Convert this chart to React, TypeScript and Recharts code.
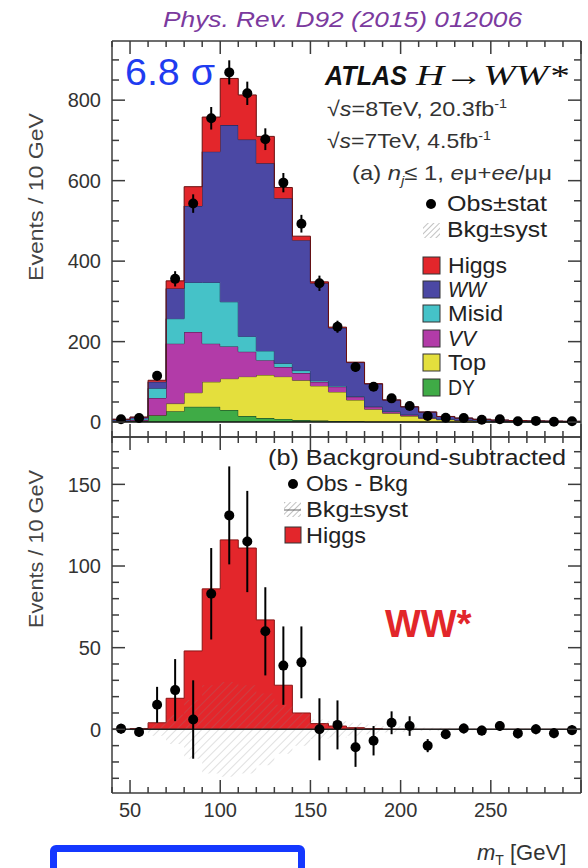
import React from 'react';
import { ComposedChart, Area, Scatter, ErrorBar, XAxis, YAxis, ReferenceLine } from 'recharts';

// m_T bins: lower edges in GeV (10 GeV wide), closed by the last edge
const binLow = [40, 50, 60, 70, 80, 90, 100, 110, 120, 130, 140, 150, 160, 170, 180, 190, 200, 210, 220, 230, 240, 250, 260, 270, 280, 290];
const binCentre = [45, 55, 65, 75, 85, 95, 105, 115, 125, 135, 145, 155, 165, 175, 185, 195, 205, 215, 225, 235, 245, 255, 265, 275, 285, 295];
const upperEdge = 300;

// Expected events per bin for each process (stacked bottom to top: DY, Top, VV, Misid, WW, Higgs)
const dyEvents = [2, 3, 17, 27, 38, 38, 30, 15, 10, 8, 5, 4, 3, 2, 1, 1, 1, 0.5, 0.5, 0.3, 0.2, 0.2, 0.1, 0.1, 0.1, 0.1];
const topEvents = [0, 0, 0, 19, 35, 62, 78, 98, 107, 105, 99, 86, 72, 53, 31, 21, 14, 8.5, 5.5, 3.7, 2.8, 1.8, 1.4, 0.9, 0.9, 0.7];
const vvEvents = [1, 2, 43, 149, 151, 95, 80, 62, 37, 24, 18, 10, 13, 8, 6, 4, 3, 2, 1, 1, 0.5, 0.5, 0.5, 0.5, 0.2, 0.2];
const misidEvents = [1, 3, 24, 62, 123, 152, 111, 38, 23, 9, 6, 3, 2, 1, 1, 1, 1, 1, 1, 0.5, 0.5, 0.5, 0.3, 0.3, 0.3, 0.2];
const wwEvents = [3, 4, 16, 75, 190, 325, 439, 489, 466, 410, 324, 242, 144, 84, 56, 28, 19, 13, 6, 4.5, 3, 2, 1.7, 1.2, 1, 0.8];
const higgsEvents = [0, 0.5, 4, 19, 48, 86, 116, 111, 67, 27, 10, 3.5, 2, 1, 0.4, 0, 0, 0, 0, 0, 0, 0, 0, 0, 0, 0];
const bkgSyst = [0.5, 1, 4, 9, 18, 27, 29, 27, 22, 15, 10, 6, 5, 4, 3, 2, 1.5, 1, 1, 0.5, 0.5, 0.5, 0.3, 0.3, 0.3, 0.3];

// Observed data with statistical errors, and observed minus background
const obsEvents = [7, 10, 115, 356, 543, 755, 869, 817, 703, 595, 493, 345, 237, 137, 88, 59, 40, 15, 11, 10, 6, 7, 2, 3, 1, 2];
const obsStat = [3, 3, 11, 19, 23, 28, 30, 29, 27, 24, 22, 19, 15, 12, 9, 8, 6, 4, 3, 3, 3, 3, 2, 2, 2, 2];
const obsMinusBkg = [0.4, -1.6, 15, 24, 6, 83, 131, 115, 60, 39, 41, 0, 2.7, -11, -7, 4, 2, -10, -3, 0.5, -0.8, 2, -2.5, 0, -2.4, -0.5];
const obsMinusBkgErr = [3, 3, 11, 19, 24, 28, 30, 31, 27, 24, 22, 19, 15, 12, 9, 7, 6, 4, 3, 3, 3, 3, 3, 3, 3, 3];

// Axis ticks
const xTicks = [40, 50, 60, 70, 80, 90, 100, 110, 120, 130, 140, 150, 160, 170, 180, 190, 200, 210, 220, 230, 240, 250, 260, 270, 280, 290, 300];
const xLabels = [50, 100, 150, 200, 250];
const topYTicks = [0, 50, 100, 150, 200, 250, 300, 350, 400, 450, 500, 550, 600, 650, 700, 750, 800, 850, 900];
const bottomYTicks = [-30, -20, -10, 0, 10, 20, 30, 40, 50, 60, 70, 80, 90, 100, 110, 120, 130, 140, 150, 160, 170];

const COLORS = {
  higgs: '#e3262b',
  ww: '#4b48a4',
  misid: '#45c2c8',
  vv: '#b23ba8',
  top: '#e4df3d',
  dy: '#3fab46',
};

const FONT = '"Liberation Sans", Arial, Helvetica, sans-serif';
const AXIS = '#3c3c3c';

// Step rows at bin edges; the closing edge repeats the last bin
const stepRows: any[] = binLow.map((x, i) => ({
  x,
  dy: dyEvents[i],
  top: topEvents[i],
  vv: vvEvents[i],
  misid: misidEvents[i],
  ww: wwEvents[i],
  higgs: higgsEvents[i],
  band: [-bkgSyst[i], bkgSyst[i]],
}));
stepRows.push({ ...stepRows[stepRows.length - 1], x: upperEdge });

const topPoints = binCentre.map((x, i) => ({ x, y: obsEvents[i], e: obsStat[i] }));
const bottomPoints = binCentre.map((x, i) => ({ x, y: obsMinusBkg[i], e: obsMinusBkgErr[i] }));

// Inward-pointing ticks, ATLAS style
function yTick(major: number, side: 'left' | 'right', labelled: boolean) {
  return (props: any) => {
    const { x, y, payload } = props;
    const v = payload.value as number;
    const isMajor = v % major === 0;
    const len = isMajor ? 13 : 7;
    const d = side === 'left' ? 1 : -1;
    return (
      <g>
        <line x1={x} x2={x + d * len} y1={y} y2={y} stroke={AXIS} strokeWidth={1.5} />
        {labelled && isMajor ? (
          <text x={x - 11} y={y} dy="0.36em" textAnchor="end" fontFamily={FONT} fontSize={20} fill="#333">
            {v}
          </text>
        ) : null}
      </g>
    );
  };
}

function xTick(side: 'top' | 'bottom', labelled: boolean) {
  return (props: any) => {
    const { x, y, payload } = props;
    const v = payload.value as number;
    const isMajor = v % 50 === 0;
    const len = isMajor ? 13 : 6;
    const d = side === 'bottom' ? -1 : 1;
    return (
      <g>
        <line x1={x} x2={x} y1={y} y2={y + d * len} stroke={AXIS} strokeWidth={1.5} />
        {labelled && xLabels.indexOf(v) >= 0 ? (
          <text x={x} y={y + 24} textAnchor="middle" fontFamily={FONT} fontSize={20} fill="#333">
            {v}
          </text>
        ) : null}
      </g>
    );
  };
}

const dot = (p: any) => <circle cx={p.cx} cy={p.cy} r={5} fill="#000" />;

const axisLine = { stroke: AXIS, strokeWidth: 1.5 };
const axisCommon = {
  interval: 0 as const,
  tickSize: 0,
  tickMargin: 0,
  tickLine: false,
  axisLine,
  allowDataOverflow: true,
};

function StackPanel() {
  return (
    <ComposedChart width={588} height={440} data={stepRows} margin={{ top: 40, right: 6, bottom: 2, left: 111 }}>
      <XAxis dataKey="x" type="number" domain={[40, 300]} ticks={xTicks} height={1} tick={xTick('bottom', false)} {...axisCommon} />
      <XAxis xAxisId="t" orientation="top" dataKey="x" type="number" domain={[40, 300]} ticks={xTicks} height={1} tick={xTick('top', false)} {...axisCommon} />
      <YAxis type="number" domain={[-37, 947]} ticks={topYTicks} width={1} tick={yTick(200, 'left', true)} {...axisCommon} />
      <YAxis yAxisId="r" orientation="right" type="number" domain={[-37, 947]} ticks={topYTicks} width={1} tick={yTick(200, 'right', false)} {...axisCommon} />
      <Area dataKey="dy" stackId="s" type="stepAfter" fill={COLORS.dy} fillOpacity={1} stroke="#1d3a1d" strokeWidth={1} isAnimationActive={false} />
      <Area dataKey="top" stackId="s" type="stepAfter" fill={COLORS.top} fillOpacity={1} stroke="#4a4a1a" strokeWidth={1} isAnimationActive={false} />
      <Area dataKey="vv" stackId="s" type="stepAfter" fill={COLORS.vv} fillOpacity={1} stroke="#3a1a3a" strokeWidth={1} isAnimationActive={false} />
      <Area dataKey="misid" stackId="s" type="stepAfter" fill={COLORS.misid} fillOpacity={1} stroke="#1f3f5f" strokeWidth={1} isAnimationActive={false} />
      <Area dataKey="ww" stackId="s" type="stepAfter" fill={COLORS.ww} fillOpacity={1} stroke="#1f1f45" strokeWidth={1} isAnimationActive={false} />
      <Area dataKey="higgs" stackId="s" type="stepAfter" fill={COLORS.higgs} fillOpacity={1} stroke="#6a1010" strokeWidth={1} isAnimationActive={false} />
      <ReferenceLine y={0} stroke="#111" strokeWidth={1.5} />
      <Scatter data={topPoints} dataKey="y" shape={dot} isAnimationActive={false}>
        <ErrorBar dataKey="e" direction="y" width={0} stroke="#000" strokeWidth={2} />
      </Scatter>
    </ComposedChart>
  );
}

function SubtractedPanel() {
  return (
    <ComposedChart width={588} height={438} data={stepRows} margin={{ top: 6, right: 6, bottom: 74, left: 111 }}>
      <defs>
        <pattern id="systHatch" patternUnits="userSpaceOnUse" width="6" height="6" patternTransform="rotate(45)">
          <line x1="0" y1="0" x2="0" y2="6" stroke="#888" strokeOpacity={0.4} strokeWidth={1.3} />
        </pattern>
      </defs>
      <XAxis dataKey="x" type="number" domain={[40, 300]} ticks={xTicks} height={1} tick={xTick('bottom', true)} {...axisCommon} />
      <XAxis xAxisId="t" orientation="top" dataKey="x" type="number" domain={[40, 300]} ticks={xTicks} height={1} tick={xTick('top', false)} {...axisCommon} />
      <YAxis type="number" domain={[-39, 179]} ticks={bottomYTicks} width={1} tick={yTick(50, 'left', true)} {...axisCommon} />
      <YAxis yAxisId="r" orientation="right" type="number" domain={[-39, 179]} ticks={bottomYTicks} width={1} tick={yTick(50, 'right', false)} {...axisCommon} />
      <Area dataKey="higgs" type="stepAfter" fill={COLORS.higgs} fillOpacity={1} stroke="#8a1515" strokeWidth={1} isAnimationActive={false} />
      <Area dataKey="band" type="stepAfter" fill="url(#systHatch)" fillOpacity={1} stroke="none" isAnimationActive={false} />
      <ReferenceLine y={0} stroke="#222" strokeWidth={1.5} />
      <Scatter data={bottomPoints} dataKey="y" shape={dot} isAnimationActive={false}>
        <ErrorBar dataKey="e" direction="y" width={0} stroke="#000" strokeWidth={2} />
      </Scatter>
    </ComposedChart>
  );
}

function LegendBox({ y, color, label, italic, width }: { y: number; color: string; label: string; italic?: boolean; width: number }) {
  return (
    <g>
      <rect x={423} y={y} width={17} height={17} fill={color} stroke="#333" strokeWidth={1} />
      <text x={448} y={y + 16} fontFamily={FONT} fontSize={22} fontStyle={italic ? 'italic' : 'normal'} fill="#222" textLength={width} lengthAdjust="spacingAndGlyphs">
        {label}
      </text>
    </g>
  );
}

function Annotations() {
  return (
    <svg width={588} height={868} style={{ position: 'absolute', left: 0, top: 0, pointerEvents: 'none' }}>
      <defs>
        <pattern id="legendHatch" patternUnits="userSpaceOnUse" width="4" height="4" patternTransform="rotate(45)">
          <line x1="0" y1="0" x2="0" y2="4" stroke="#999" strokeWidth={1.2} />
        </pattern>
      </defs>
      <text x={163} y={27} fontFamily={FONT} fontSize={22} fontStyle="italic" fill="#7b3a9e" textLength={359} lengthAdjust="spacingAndGlyphs">
        Phys. Rev. D92 (2015) 012006
      </text>

      <text x={125} y={85} fontFamily={FONT} fontSize={37} fill="#1f3cf0" textLength={90} lengthAdjust="spacingAndGlyphs">
        6.8 σ
      </text>

      <text x={325} y={85} fontFamily={FONT} fontSize={28} fontWeight="bold" fontStyle="italic" fill="#111" textLength={82} lengthAdjust="spacingAndGlyphs">
        ATLAS
      </text>
      <text x={416} y={85} fontFamily='"Liberation Serif", "Times New Roman", serif' fontSize={30} fill="#111" textLength={152} lengthAdjust="spacingAndGlyphs">
        <tspan fontStyle="italic">H</tspan>
        <tspan>→</tspan>
        <tspan fontStyle="italic">WW*</tspan>
      </text>
      <text x={327} y={116} fontFamily={FONT} fontSize={21} fill="#333" textLength={180} lengthAdjust="spacingAndGlyphs">
        √<tspan fontStyle="italic">s</tspan>=8TeV, 20.3fb<tspan dy={-8} fontSize={13}>-1</tspan>
      </text>
      <text x={327} y={148} fontFamily={FONT} fontSize={21} fill="#333" textLength={164} lengthAdjust="spacingAndGlyphs">
        √<tspan fontStyle="italic">s</tspan>=7TeV, 4.5fb<tspan dy={-8} fontSize={13}>-1</tspan>
      </text>
      <text x={352} y={180} fontFamily={FONT} fontSize={21} fill="#333" textLength={200} lengthAdjust="spacingAndGlyphs">
        (a) <tspan fontStyle="italic">n</tspan>
        <tspan dy={5} fontSize={13} fontStyle="italic">j</tspan>
        <tspan dy={-5}>≤ 1, </tspan>
        <tspan fontStyle="italic">e</tspan>μ+<tspan fontStyle="italic">ee</tspan>/μμ
      </text>

      <circle cx={431} cy={204} r={5} fill="#000" />
      <text x={447} y={211} fontFamily={FONT} fontSize={22} fill="#222" textLength={100} lengthAdjust="spacingAndGlyphs">Obs±stat</text>
      <rect x={423} y={223} width={17} height={15} fill="url(#legendHatch)" />
      <text x={447} y={237} fontFamily={FONT} fontSize={22} fill="#222" textLength={100} lengthAdjust="spacingAndGlyphs">Bkg±syst</text>

      <LegendBox y={257} color={COLORS.higgs} label="Higgs" width={59} />
      <LegendBox y={281} color={COLORS.ww} label="WW" italic width={38} />
      <LegendBox y={305} color={COLORS.misid} label="Misid" width={55} />
      <LegendBox y={330} color={COLORS.vv} label="VV" italic width={28} />
      <LegendBox y={354} color={COLORS.top} label="Top" width={38} />
      <LegendBox y={379} color={COLORS.dy} label="DY" width={27} />

      <text x={268} y={465} fontFamily={FONT} fontSize={22} fill="#222" textLength={298} lengthAdjust="spacingAndGlyphs">(b) Background-subtracted</text>
      <circle cx={293} cy={484} r={5} fill="#000" />
      <text x={306} y={491} fontFamily={FONT} fontSize={22} fill="#222" textLength={102} lengthAdjust="spacingAndGlyphs">Obs - Bkg</text>
      <rect x={284} y={502} width={17} height={15} fill="url(#legendHatch)" />
      <line x1={284} x2={301} y1={510} y2={510} stroke="#666" strokeWidth={1} />
      <text x={306} y={517} fontFamily={FONT} fontSize={22} fill="#222" textLength={102} lengthAdjust="spacingAndGlyphs">Bkg±syst</text>
      <rect x={285} y={527} width={16} height={16} fill={COLORS.higgs} stroke="#333" strokeWidth={1} />
      <text x={306} y={543} fontFamily={FONT} fontSize={22} fill="#222" textLength={60} lengthAdjust="spacingAndGlyphs">Higgs</text>

      <text x={385} y={637} fontFamily={FONT} fontSize={38} fontWeight="bold" fill="#e2262a">WW*</text>

      <text transform="translate(43,197) rotate(-90)" textAnchor="middle" fontFamily={FONT} fontSize={20} fill="#444" textLength={168} lengthAdjust="spacingAndGlyphs">
        Events / 10 GeV
      </text>
      <text transform="translate(43,549) rotate(-90)" textAnchor="middle" fontFamily={FONT} fontSize={20} fill="#444" textLength={158} lengthAdjust="spacingAndGlyphs">
        Events / 10 GeV
      </text>

      <text x={477} y={860} fontFamily={FONT} fontSize={22} fill="#333">
        <tspan fontStyle="italic">m</tspan>
        <tspan dy={5} fontSize={14}>T</tspan>
        <tspan dy={-5}> [GeV]</tspan>
      </text>
    </svg>
  );
}

export default function App() {
  return (
    <div style={{ position: 'absolute', left: 0, top: 0, width: 588, height: 868, overflow: 'hidden', background: '#fff' }}>
      <div style={{ position: 'absolute', left: 0, top: 0 }}>
        <StackPanel />
      </div>
      <div style={{ position: 'absolute', left: 0, top: 430 }}>
        <SubtractedPanel />
      </div>
      <Annotations />
      <div
        style={{
          position: 'absolute',
          left: 50,
          top: 845,
          width: 255,
          height: 60,
          border: '7px solid #1438ff',
          borderRadius: 6,
          boxSizing: 'border-box',
        }}
      />
    </div>
  );
}
